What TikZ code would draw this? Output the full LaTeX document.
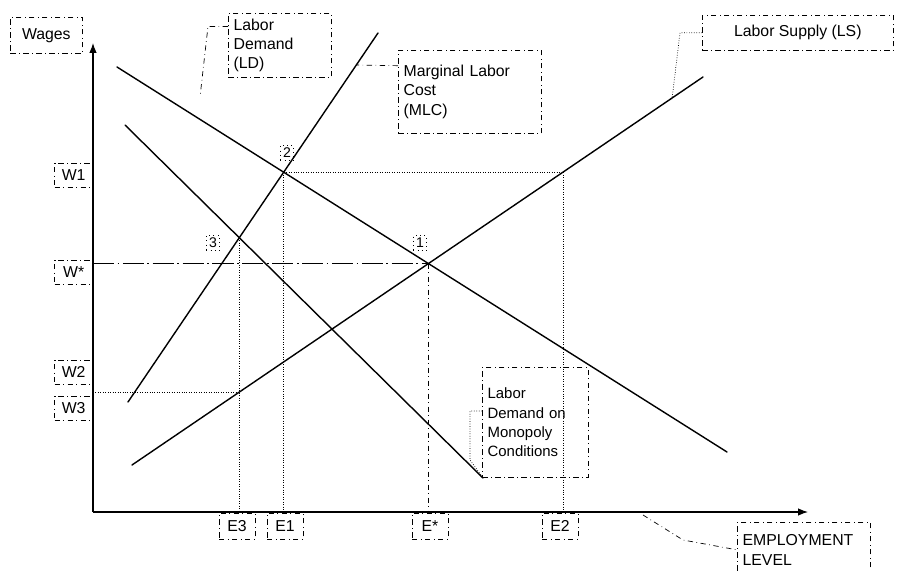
\documentclass[tikz,border=0pt]{standalone}
\usepackage{fontspec}
\setmainfont{Liberation Sans}
\usetikzlibrary{arrows.meta,positioning,intersections}

\begin{document}
\begin{tikzpicture}[
    x=0.02cm, y=-0.02cm,
    font=\fontsize{9}{11}\selectfont,
    curve/.style={thick,line cap=round},
    guide/.style={densely dotted},
    tag/.style={draw,dash dot,inner sep=3pt,align=left,anchor=north west},
    wtag/.style={draw,dash dot,inner sep=1pt,minimum width=0.76cm,minimum height=0.48cm,anchor=east},
    etag/.style={draw,dash dot,inner sep=1pt,minimum width=0.72cm,minimum height=0.52cm,anchor=north},
    ptag/.style={draw,dotted,inner sep=1.5pt,font=\fontsize{8}{9}\selectfont},
    lead/.style={dash dot},
    axis/.style={-{Latex[length=2mm]},semithick}
  ]
  \useasboundingbox (0,0) rectangle (900,571);

  % axes
  \coordinate (o) at (93,512);
  \coordinate (ytop) at (93,43);
  \coordinate (xend) at (808,512);
  \draw[axis] (o) -- (ytop);
  \draw[axis] (o) -- (xend);

  % curves
  \coordinate (ld0) at (117,67);   \coordinate (ld1) at (727,452);
  \coordinate (mlc0) at (128,402); \coordinate (mlc1) at (378,33);
  \coordinate (ls0) at (132,465);  \coordinate (ls1) at (703,77);
  \coordinate (md0) at (125,125);  \coordinate (md1) at (483,478);
  \draw[curve,name path=ld] (ld0) -- (ld1);
  \draw[curve,name path=mlc] (mlc0) -- (mlc1);
  \draw[curve,name path=ls] (ls0) -- (ls1);
  \draw[curve,name path=md] (md0) -- (md1);

  \path[name intersections={of=ld and ls,by=p1}];
  \path[name intersections={of=ld and mlc,by=p2}];
  \path[name intersections={of=md and mlc,by=p3}];
  \path[name path=w1] (o |- p2) -- ++(800,0);
  \path[name path=q3] (p3 |- o) -- ++(0,-500);
  \path[name intersections={of=w1 and ls,by=s1}];
  \path[name intersections={of=q3 and ls,by=s3}];

  % guides
  \draw[dash pattern=on 12pt off 2pt on 1pt off 2pt] (o |- p1) -- (p1);
  \draw[lead] (p1) -- (p1 |- o);
  \draw[guide] (p2) -- (s1);
  \draw[guide] (s1) -- (s1 |- o);
  \draw[guide] (p2) -- (p2 |- o);
  \draw[guide] (p3) -- (p3 |- o);
  \draw[guide] (o |- s3) -- (s3);

  % point marks
  \node[ptag] (n1) at (420,243) {1};
  \node[ptag] (n2) at (287,153) {2};
  \node[ptag] (n3) at (213,243) {3};

  % axis tags
  \node[tag,minimum width=1.44cm,minimum height=0.72cm] (wageslbl) at (10,17) {Wages};
  \node[wtag] (w1lbl) at (93,175) {W1};
  \node[wtag] (wslbl) at (93,272) {W*};
  \node[wtag] (w2lbl) at (93,372) {W2};
  \node[wtag] (w3lbl) at (93,408) {W3};
  \node[etag] (e3lbl) at (237,513) {E3};
  \node[etag] (e1lbl) at (285,513) {E1};
  \node[etag] (eslbl) at (430,513) {E*};
  \node[etag] (e2lbl) at (560,513) {E2};
  \node[tag,text width=2.45cm,minimum height=1.1cm] (emplbl) at (737,522) {EMPLOYMENT\\LEVEL};

  % curve tags
  \node[tag,text width=1.85cm,minimum height=1.28cm] (ldlbl) at (228,13) {Labor\\Demand\\(LD)};
  \node[tag,text width=2.65cm,minimum height=1.66cm] (mlclbl) at (398,50) {Marginal Labor\\Cost\\(MLC)\\ };
  \node[tag,align=center,minimum width=3.82cm,minimum height=0.7cm] (lslbl) at (702,15) {Labor Supply (LS)};
  \node[tag,text width=1.9cm,minimum height=2.2cm,font=\fontsize{8.5}{11}\selectfont] (mdlbl) at (482,367) {Labor\\Demand on\\Monopoly\\Conditions};

  % leaders
  \coordinate (ldpt) at (200,97);
  \coordinate (mlcpt) at (356,65);
  \coordinate (lspt) at (672,99);
  \coordinate (axpt) at (643,515);
  \draw[lead] (ldlbl.160) -- ++(-20,0) -- (ldpt);
  \draw[lead] (mlclbl.160) -- (mlcpt);
  \draw[guide] (lslbl.west) -- ++(-22,0) -- (lspt);
  \draw[guide] (mdlbl.168) -- ++(-12,0) -- (470,460) -- (md1);
  \draw[lead] (axpt) -- (683,540) -- (emplbl.west);
\end{tikzpicture}
\end{document}
